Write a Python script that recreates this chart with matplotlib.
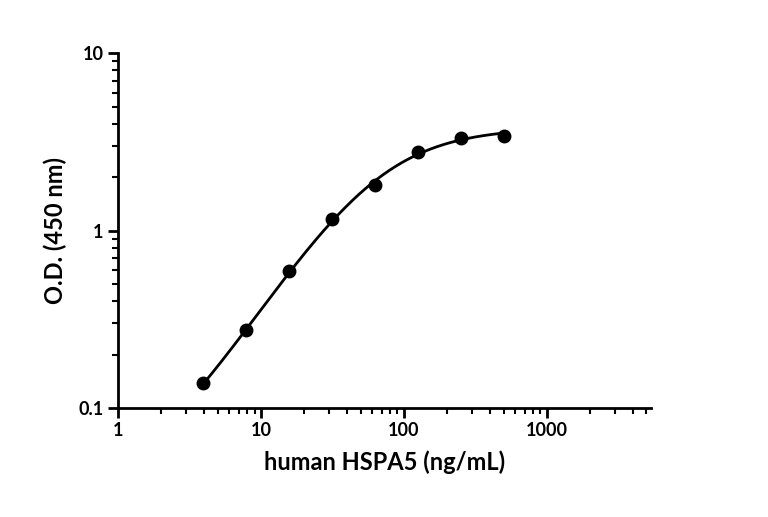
import numpy as np
import matplotlib.pyplot as plt
import matplotlib.ticker as mticker

conc = [3.9, 7.8, 15.6, 31.25, 62.5, 125, 250, 500]
od = [0.138, 0.275, 0.59, 1.16, 1.80, 2.77, 3.32, 3.41]

x_label = "human HSPA5 (ng/mL)"
y_label = "O.D. (450 nm)"

# crude 4PL fit by grid search (in log space)
lx = np.log10(conc)
ly = np.log10(od)
best = None
for bot in np.linspace(0.0, 0.1, 11):
    for top in np.linspace(3.4, 5.0, 33):
        for lec in np.linspace(1.0, 2.5, 61):
            for h in np.linspace(0.8, 2.0, 49):
                pred = bot + (top - bot) / (1 + 10 ** ((lec - lx) * h))
                err = np.sum((np.log10(pred) - ly) ** 2)
                if best is None or err < best[0]:
                    best = (err, bot, top, lec, h)
_, bot, top, lec, h = best
xs = np.logspace(np.log10(conc[0]), np.log10(conc[-1]), 300)
ys = bot + (top - bot) / (1 + 10 ** ((lec - np.log10(xs)) * h))

plt.rcParams['font.family'] = ['Lato', 'DejaVu Sans']
fig = plt.figure(figsize=(7.68, 5.17), dpi=100)
ax = fig.add_axes([0.154, 0.211, 0.694, 0.686])
ax.plot(xs, ys, color='black', lw=2)
ax.plot(conc, od, 'o', color='black', ms=9)
ax.set_xscale('log')
ax.set_yscale('log')
ax.set_xlim(1, 5400)
ax.set_ylim(0.1, 10)
ax.xaxis.set_major_locator(mticker.FixedLocator([1, 10, 100, 1000]))
ax.yaxis.set_major_locator(mticker.FixedLocator([0.1, 1, 10]))
ax.xaxis.set_major_formatter(mticker.FixedFormatter(['1', '10', '100', '1000']))
ax.yaxis.set_major_formatter(mticker.FixedFormatter(['0.1', '1', '10']))
ax.xaxis.set_minor_locator(mticker.LogLocator(subs=np.arange(2, 10)))
ax.yaxis.set_minor_locator(mticker.LogLocator(subs=np.arange(2, 10)))
ax.xaxis.set_minor_formatter(mticker.NullFormatter())
ax.yaxis.set_minor_formatter(mticker.NullFormatter())
for s in ['top', 'right']:
    ax.spines[s].set_visible(False)
for s in ['left', 'bottom']:
    ax.spines[s].set_linewidth(2)
ax.tick_params(which='major', width=2, length=7, labelsize=13)
ax.tick_params(which='minor', width=1.5, length=4)
for t in ax.get_xticklabels() + ax.get_yticklabels():
    t.set_fontweight('bold')
ax.set_xlabel(x_label, fontsize=17, fontweight='bold', labelpad=8)
ax.set_ylabel(y_label, fontsize=17, fontweight='bold', labelpad=8)
fig.savefig('out.png', dpi=100)
